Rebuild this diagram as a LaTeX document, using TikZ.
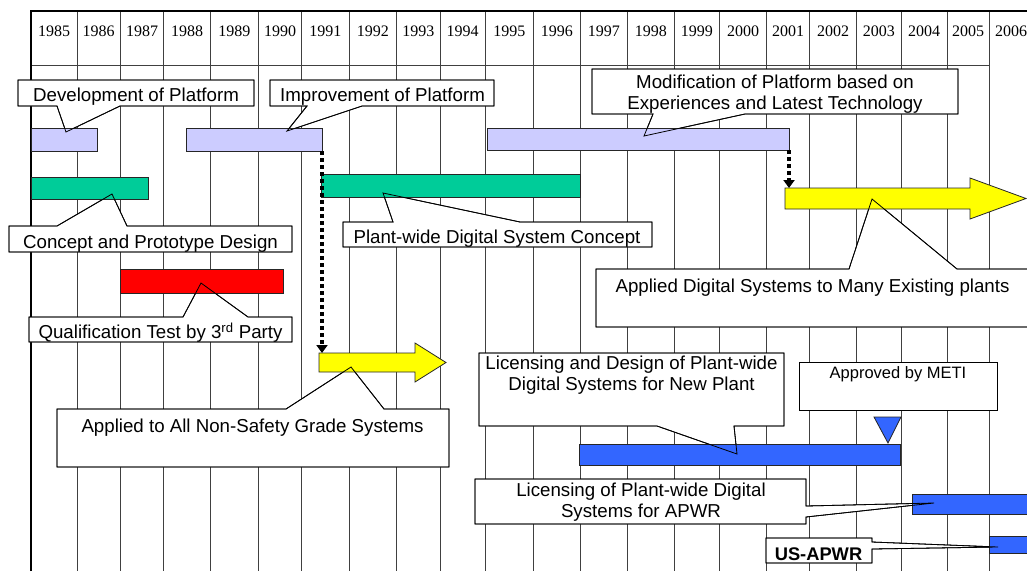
\documentclass[tikz,border=0pt]{standalone}
\usepackage{fontspec}
\setmainfont{Liberation Sans}
\newfontfamily\yearfont{Liberation Serif}
\usetikzlibrary{arrows.meta}
\definecolor{lav}{HTML}{CCCCFF}
\definecolor{grn}{HTML}{00CC99}
\definecolor{rd}{HTML}{FF0000}
\definecolor{ylw}{HTML}{FFFF00}
\definecolor{blu}{HTML}{3366FF}
\begin{document}
\begin{tikzpicture}[x=1pt,y=-1pt,
  gridline/.style={draw=black!75, line width=0.9pt},
  cbox/.style={draw=black, fill=white, line width=0.8pt, line join=miter},
  cline/.style={draw=black, line width=0.8pt, line join=miter},
  bar/.style={draw=black!85, line width=0.8pt, inner sep=0pt, outer sep=0pt, anchor=north west, rectangle},
  shapeline/.style={draw=black!85, line width=0.8pt, line join=miter},
  txt/.style={font=\fontsize{18.7}{21}\selectfont, inner sep=0pt, align=center},
  yr/.style={font=\yearfont\fontsize{16}{18}\selectfont, inner sep=0pt, anchor=base},
  dotarrow/.style={line width=3.5pt, dash pattern=on 4pt off 3pt, -{Triangle[width=11pt,length=8pt]}},
]
\useasboundingbox (0,0) rectangle (1027,571);
\fill[white] (0,0) rectangle (1027,571);
\clip (0,0) rectangle (1027,571);

% grid
\foreach \x in {77,120.3,163.7,210.3,258.3,301.7,349,396.7,440,485.3,533.6,580.3,627.4,674.1,719.8,766.5,809.6,856.6,901.3,947,989.4}
  \draw[gridline] (\x,11) -- (\x,571);
\draw[gridline] (31,65) -- (989.4,65);
\draw[line width=2.8pt, line join=miter] (31,571) -- (31,11) -- (1035,11);

% years
\foreach \a/\b/\yy in {31/77/1985, 77/120.3/1986, 120.3/163.7/1987, 163.7/210.3/1988, 210.3/258.3/1989, 258.3/301.7/1990, 301.7/349/1991, 349/396.7/1992, 396.7/440/1993, 440/485.3/1994, 485.3/533.6/1995, 533.6/580.3/1996, 580.3/627.4/1997, 627.4/674.1/1998, 674.1/719.8/1999, 719.8/766.5/2000, 766.5/809.6/2001, 809.6/856.6/2002, 856.6/901.3/2003, 901.3/947/2004, 947/989.4/2005, 989.4/1033/2006}
  \node[yr] (y\yy) at ({(\a+\b)/2},36.7) {\yy};

% callout outlines
\def\cpDev{(18,80) -- (254,80) -- (254,106) -- (120,106) -- (66,132) -- (57,106) -- (18,106) -- cycle}
\def\cpImp{(270,80) -- (494,80) -- (494,106) -- (362,106) -- (287,131) -- (307,106) -- (270,106) -- cycle}
\def\cpMod{(592,69) -- (958,69) -- (958,114) -- (745,114) -- (644,136) -- (653,114) -- (592,114) -- cycle}
\def\cpCon{(9,226) -- (57,226) -- (112,194) -- (127,226) -- (292,226) -- (292,252) -- (9,252) -- cycle}
\def\cpPw{(343,222) -- (393,222) -- (383,193) -- (520,222) -- (652,222) -- (652,247) -- (343,247) -- cycle}
\def\cpQual{(29,317) -- (183,317) -- (201,283) -- (248,317) -- (292,317) -- (292,342) -- (29,342) -- cycle}
\def\cpApp{(57,409) -- (286,409) -- (351,367) -- (384,409) -- (449,409) -- (449,467) -- (57,467) -- cycle}
\def\cpAppD{(596,269) -- (849,269) -- (872,199) -- (957,269) -- (1040,269) -- (1040,327) -- (596,327) -- cycle}
\def\cpLic{(479,353) -- (784,353) -- (784,426) -- (734,426) -- (737,454) -- (657,426) -- (479,426) -- cycle}
\def\cpMeti{(799,362) rectangle (997,410)}
\def\cpApwr{(475,479) -- (806,479) -- (806,506) -- (934,503) -- (806,517) -- (806,524) -- (475,524) -- cycle}
\def\cpUs{(766,538) -- (872,538) -- (872,542) -- (998,547) -- (872,549) -- (872,563) -- (766,563) -- cycle}

\foreach \p in {\cpDev,\cpImp,\cpMod,\cpCon,\cpPw,\cpQual,\cpApp,\cpAppD,\cpLic,\cpMeti,\cpApwr,\cpUs}
  \draw[cbox] \p;

% bars
\node[bar, fill=lav, minimum width=66pt, minimum height=23pt] (devbar) at (31,128) {};
\node[bar, fill=lav, minimum width=136pt, minimum height=23pt] (impbar) at (186,128) {};
\node[bar, fill=lav, minimum width=302pt, minimum height=22pt] (modbar) at (487,128) {};
\node[bar, fill=grn, minimum width=117pt, minimum height=22pt] (conbar) at (31,177) {};
\node[bar, fill=grn, minimum width=259pt, minimum height=23pt] (pwbar) at (321,174) {};
\node[bar, fill=rd, minimum width=163pt, minimum height=24pt] (qualbar) at (120,269) {};
\node[bar, fill=blu, minimum width=321pt, minimum height=21pt] (licbar) at (579,444) {};
\node[bar, fill=blu, minimum width=130pt, minimum height=20pt] (apwrbar) at (912,494) {};
\node[bar, fill=blu, minimum width=50pt, minimum height=17pt] (usbar) at (989,536) {};

% yellow arrows
\filldraw[shapeline, fill=ylw] (319,353) -- (415,353) -- (415,343) -- (446,362.5) -- (415,382) -- (415,372) -- (319,372) -- cycle;
\filldraw[shapeline, fill=ylw] (785,188) -- (970,188) -- (970,178) -- (1026,198.5) -- (970,219) -- (970,209) -- (785,209) -- cycle;
\coordinate (arr1top) at (322,353);
\coordinate (arr2top) at (789,188);

% METI triangle
\filldraw[shapeline, fill=blu] (874,417) -- (901,417) -- (888,443) -- cycle;

% dotted arrows
\draw[dotarrow] (impbar.south east) -- (arr1top);
\draw[dotarrow] (modbar.south east) -- (arr2top);

% callout outlines again on top
\foreach \p in {\cpDev,\cpImp,\cpMod,\cpCon,\cpPw,\cpQual,\cpApp,\cpAppD,\cpLic,\cpApwr,\cpUs}
  \draw[cline] \p;

% texts
\node[txt, anchor=base] (tDev) at (136,101.7) {Development of Platform};
\node[txt, anchor=base] (tImp) at (382.5,101.7) {Improvement of Platform};
\node[txt] (tMod) at (775,93.8) {Modification of Platform based on\\Experiences and Latest Technology};
\node[txt, anchor=base] (tCon) at (150.5,248.3) {Concept and Prototype Design};
\node[txt, anchor=base] (tPw) at (497,243.3) {Plant-wide Digital System Concept};
\node[txt, anchor=base] (tQual) at (160.5,338.3) {Qualification Test by 3\textsuperscript{rd} Party};
\node[txt, anchor=base] (tApp) at (252.5,432.7) {Applied to All Non-Safety Grade Systems};
\node[txt, anchor=base] (tAppD) at (812.5,292.7) {Applied Digital Systems to Many Existing plants};
\node[txt] (tLic) at (631.5,375.6) {Licensing and Design of Plant-wide\\Digital Systems for New Plant};
\node[txt, font=\fontsize{16.5}{19}\selectfont, anchor=base] (tMeti) at (898,378.3) {Approved by METI};
\node[txt] (tApwr) at (641,502.6) {Licensing of Plant-wide Digital\\Systems for APWR};
\node[txt, font=\bfseries\fontsize{18.3}{21}\selectfont, anchor=base] (tUs) at (818.5,560) {US-APWR};
\end{tikzpicture}
\end{document}
